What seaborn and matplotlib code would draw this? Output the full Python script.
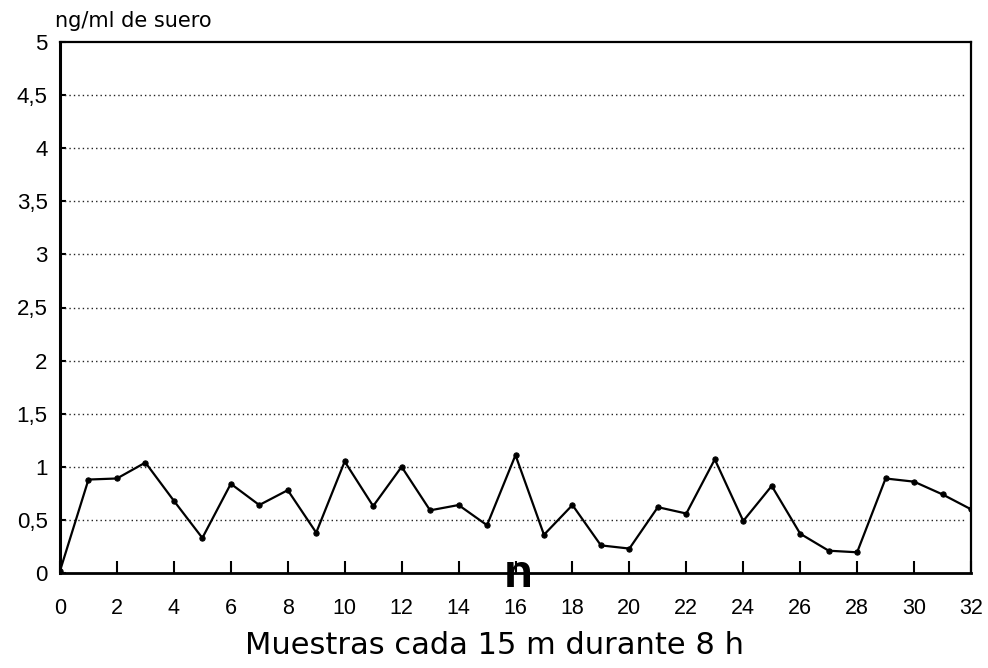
import matplotlib
matplotlib.use("Agg")
import matplotlib.pyplot as plt
import seaborn as sns
import pandas as pd

# Serum concentration, one sample every 15 minutes over 8 hours
muestra = list(range(33))
ng_ml = [0.02, 0.88, 0.89, 1.04, 0.68, 0.33, 0.84, 0.64, 0.78, 0.38,
         1.05, 0.63, 1.00, 0.59, 0.64, 0.45, 1.11, 0.36, 0.64, 0.26,
         0.23, 0.62, 0.56, 1.07, 0.49, 0.82, 0.37, 0.21, 0.195, 0.89,
         0.86, 0.74, 0.60]
x_ticks = list(range(0, 33, 2))
y_ticks = [0, 0.5, 1, 1.5, 2, 2.5, 3, 3.5, 4, 4.5, 5]
y_labels = ["0", "0,5", "1", "1,5", "2", "2,5", "3", "3,5", "4", "4,5", "5"]

df = pd.DataFrame({"muestra": muestra, "ng_ml": ng_ml})

sns.set_theme(style="white")
plt.rcParams["font.family"] = ["Liberation Sans", "DejaVu Sans"]
plt.rcParams["text.color"] = "black"
plt.rcParams["axes.labelcolor"] = "black"

fig = plt.figure(figsize=(9.88, 6.68), dpi=100)
ax = fig.add_axes([60 / 988, 1 - 573 / 668, (971 - 60) / 988, (573 - 42) / 668])

sns.lineplot(data=df, x="muestra", y="ng_ml", ax=ax, color="black",
             linewidth=1.6, marker="o", markersize=3.8,
             markeredgecolor="black", zorder=3)

ax.set_xlim(0, 32)
ax.set_ylim(0, 5)
ax.set_xticks(x_ticks)
ax.set_xticklabels([str(t) for t in x_ticks], fontsize=15.5)
ax.set_yticks(y_ticks)
ax.set_yticklabels(y_labels, fontsize=16)

# dotted horizontal reference lines
for y in y_ticks[1:-1]:
    ax.axhline(y, xmin=0.0, xmax=0.995, color="#222222", linewidth=1.0,
               linestyle=(0, (1, 2.2)), zorder=1)

ax.tick_params(axis="x", direction="in", length=9, width=1.5, pad=18,
               colors="black", labelcolor="black", bottom=True)
ax.tick_params(axis="y", direction="in", length=4, width=1.5, pad=9,
               colors="black", labelcolor="black", left=True)

for side, lw in [("left", 2.2), ("bottom", 2.0), ("top", 1.6), ("right", 1.6)]:
    ax.spines[side].set_visible(True)
    ax.spines[side].set_color("black")
    ax.spines[side].set_linewidth(lw)

ax.set_xlabel("Muestras cada 15 m durante 8 h", fontsize=22, labelpad=9,
              family=["DejaVu Sans"], color="black")
ax.xaxis.label.set_x(0.477)
ax.set_ylabel("")
fig.text(55 / 988, 1 - 21 / 668, "ng/ml de suero", fontsize=15,
         ha="left", va="center", family=["DejaVu Sans"], color="black")

ax.text(16.1, -0.13, "n", fontsize=34, fontweight="bold", ha="center",
        va="baseline", clip_on=False, zorder=4, color="black")

fig.savefig("out.png", dpi=100, facecolor="white")
